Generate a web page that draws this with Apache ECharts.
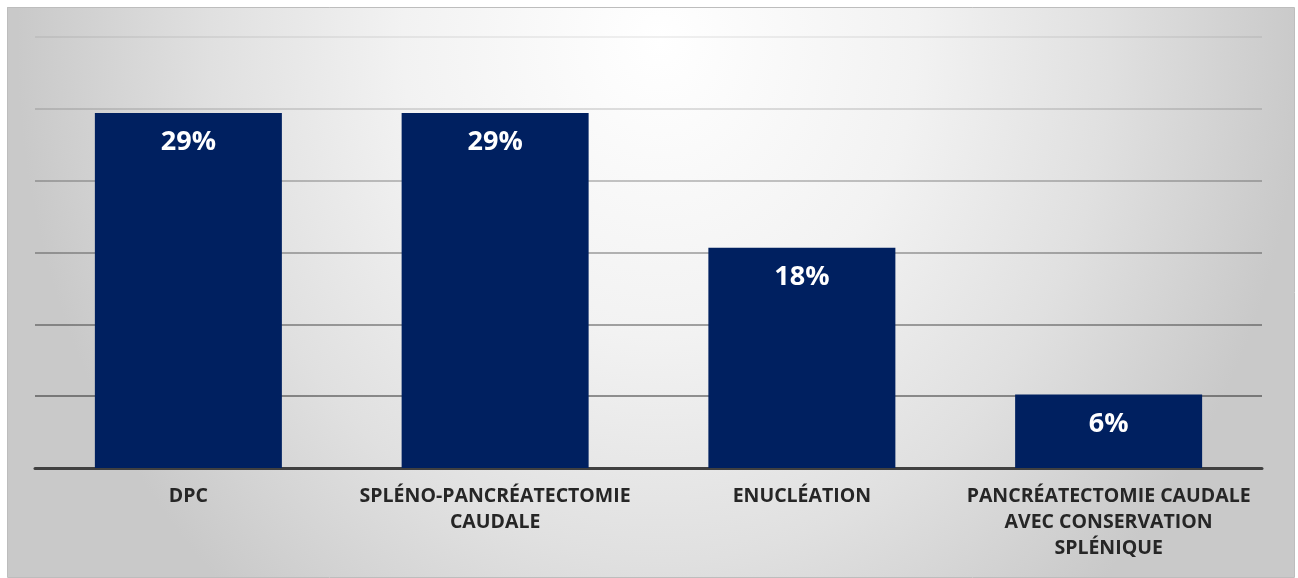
<!DOCTYPE html>
<html>
<head>
<meta charset="utf-8">
<script src="https://cdn.jsdelivr.net/npm/echarts@6/dist/echarts.min.js"></script>
<style>
  html, body { margin: 0; padding: 0; background: #ffffff; }
  #chart { width: 1298px; height: 578px; }
</style>
</head>
<body>
<div id="chart"></div>
<script>
// Types d'intervention chirurgicale (% des patients)
const categories = [
  'DPC',
  'SPLÉNO-PANCRÉATECTOMIE\nCAUDALE',
  'ENUCLÉATION',
  'PANCRÉATECTOMIE CAUDALE\nAVEC CONSERVATION\nSPLÉNIQUE'
];
const percentages = [29, 29, 18, 6];

// Horizontal rules get darker towards the baseline
const ruleColors = [
  'rgba(0,0,0,0)',
  'rgba(0,0,0,0.40)',
  'rgba(0,0,0,0.34)',
  'rgba(0,0,0,0.28)',
  'rgba(0,0,0,0.22)',
  'rgba(0,0,0,0.12)',
  'rgba(0,0,0,0.06)'
];

const FONT = '"Open Sans", "DejaVu Sans", sans-serif';
const chart = echarts.init(document.getElementById('chart'), null, { renderer: 'canvas' });

// Panel: elliptical radial shading, bright near the top centre
const panelW = 1287, panelH = 570, squash = 0.865;
const preH = panelH * squash;

chart.setOption({
  animation: false,
  graphic: [
    {
      type: 'rect',
      x: 7, y: 7,
      scaleY: 1 / squash,
      z: -10,
      silent: true,
      shape: { x: 0, y: 0, width: panelW, height: preH },
      style: {
        fill: {
          type: 'radial',
          x: 653 / panelW,
          y: 0.058,
          r: 643 / preH,
          colorStops: [
            { offset: 0, color: '#ffffff' },
            { offset: 0.4, color: '#f2f2f2' },
            { offset: 0.7, color: '#e0e0e0' },
            { offset: 1, color: '#c9c9c9' }
          ]
        }
      }
    },
    {
      type: 'rect',
      x: 7, y: 7,
      z: -9,
      silent: true,
      shape: { x: 0.5, y: 0.5, width: panelW, height: panelH },
      style: { fill: null, stroke: '#bdbdbd', lineWidth: 1 }
    }
  ],
  grid: { left: 35, right: 36, top: 37, bottom: 110, containLabel: false },
  xAxis: {
    type: 'category',
    data: categories,
    axisLine: { show: true, lineStyle: { color: '#404040', width: 3 } },
    axisTick: { show: false },
    axisLabel: {
      interval: 0,
      margin: 15,
      color: '#262626',
      fontFamily: FONT,
      fontWeight: 'bold',
      fontSize: 19.5,
      lineHeight: 26,
      align: 'center'
    }
  },
  yAxis: {
    type: 'value',
    min: 0,
    max: 35.22,
    interval: 5.87,
    axisLine: { show: false },
    axisTick: { show: false },
    axisLabel: { show: false },
    splitLine: { show: true, lineStyle: { color: ruleColors, width: 2 } }
  },
  series: [{
    type: 'bar',
    data: percentages,
    barWidth: 187,
    itemStyle: { color: '#002060' },
    label: {
      show: true,
      position: 'insideTop',
      distance: 16,
      formatter: '{c}%',
      color: '#ffffff',
      fontFamily: FONT,
      fontWeight: 'bold',
      fontSize: 27
    }
  }]
});
</script>
</body>
</html>
